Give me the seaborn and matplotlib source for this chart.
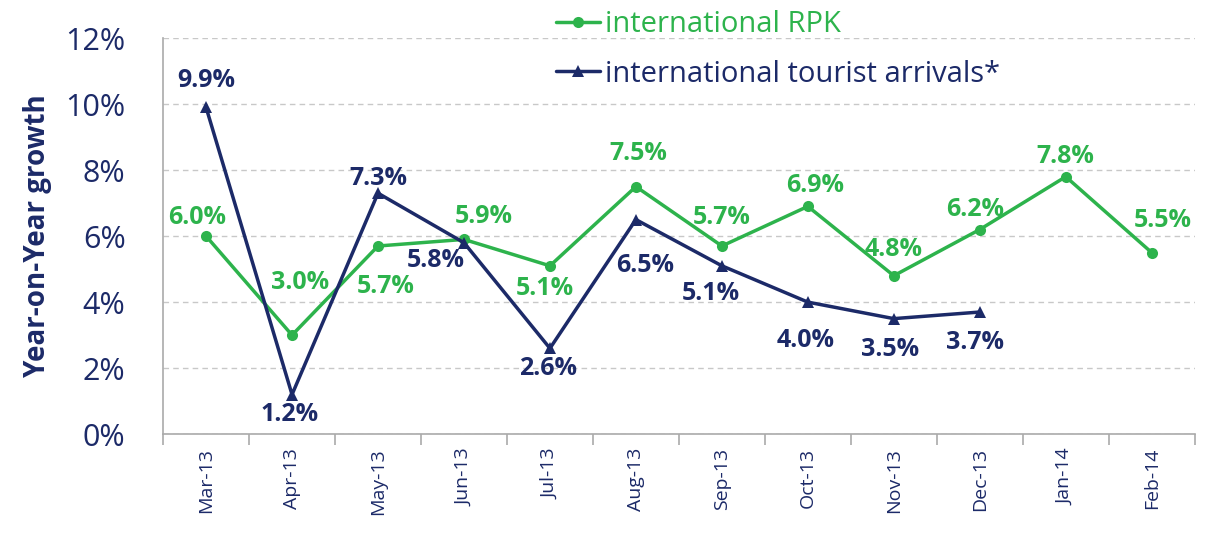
import matplotlib
matplotlib.use("Agg")
import matplotlib.pyplot as plt
import matplotlib.ticker as mticker
import pandas as pd
import seaborn as sns

months = ["Mar-13", "Apr-13", "May-13", "Jun-13", "Jul-13", "Aug-13",
          "Sep-13", "Oct-13", "Nov-13", "Dec-13", "Jan-14", "Feb-14"]
rpk = [6.0, 3.0, 5.7, 5.9, 5.1, 7.5, 5.7, 6.9, 4.8, 6.2, 7.8, 5.5]
arrivals = [9.9, 1.2, 7.3, 5.8, 2.6, 6.5, 5.1, 4.0, 3.5, 3.7]
yticks = [0, 2, 4, 6, 8, 10, 12]

GREEN = "#2db34c"
NAVY = "#1c2a68"

# label offsets in pixels (dx, dy) for each point
rpk_off = [(-9, 19), (8, 53), (8, -40), (20, 23), (-5, -23), (2, 33),
           (0, 29), (7, 21), (0, 26), (-5, 20), (0, 20), (11, 32)]
arr_off = [(0, 27), (-2, -20), (0, 15), (-28, -18), (-2, -20), (9, -46),
           (-11, -28), (-2, -38), (-4, -31), (-5, -30)]

sns.set_theme(style="white")
plt.rcParams["font.family"] = ["Open Sans", "DejaVu Sans"]

df_rpk = pd.DataFrame({"month": months, "value": rpk})
df_arr = pd.DataFrame({"month": months[:len(arrivals)], "value": arrivals})

fig = plt.figure(figsize=(12.08, 5.36), dpi=100)
ax = fig.add_axes([0.135, 0.19, 0.854, 0.739])

sns.lineplot(ax=ax, data=df_rpk, x="month", y="value", color=GREEN, lw=2.5,
             marker="o", markersize=8, markeredgewidth=0, label="international RPK", sort=False)
sns.lineplot(ax=ax, data=df_arr, x="month", y="value", color=NAVY, lw=2.5,
             marker="^", markersize=8, markeredgewidth=0, label="international tourist arrivals*", sort=False)

for m, v, (dx, dy) in zip(months, rpk, rpk_off):
    ax.annotate(f"{v:.1f}%", xy=(m, v), xytext=(dx, dy), textcoords="offset pixels",
                ha="center", va="center", fontsize=18, fontweight="bold", color=GREEN)
for m, v, (dx, dy) in zip(months, arrivals, arr_off):
    ax.annotate(f"{v:.1f}%", xy=(m, v), xytext=(dx, dy), textcoords="offset pixels",
                ha="center", va="center", fontsize=18, fontweight="bold", color=NAVY)

ax.set_xlim(-0.5, len(months) - 0.5)
ax.set_ylim(0, 12)
ax.set_yticks(yticks)
ax.yaxis.set_major_formatter(mticker.FuncFormatter(lambda v, p: f"{v:.0f}%"))
ax.tick_params(axis="y", labelsize=22, labelcolor=NAVY, length=8, color="#aaaaaa", width=1, pad=19)
ax.tick_params(axis="x", which="major", labelsize=14, labelcolor=NAVY, rotation=90, length=0, pad=10)
ax.set_xticks([i + 0.5 for i in range(-1, len(months))], minor=True)
ax.tick_params(axis="x", which="minor", length=8, color="#aaaaaa", width=1.2, direction="out")
ax.tick_params(axis="x", which="both", bottom=True)

ax.grid(axis="y", linestyle=(0, (4, 3)), color="#c8c8c8", lw=1)
ax.set_axisbelow(True)
for s in ["top", "right"]:
    ax.spines[s].set_visible(False)
for s in ["left", "bottom"]:
    ax.spines[s].set_color("#aaaaaa")
    ax.spines[s].set_linewidth(1.2)

ax.set_xlabel("")
ax.set_ylabel("Year-on-Year growth", fontsize=20, fontweight="bold", color=NAVY, labelpad=10)

leg = ax.legend(loc="upper left", bbox_to_anchor=(0.37, 1.1), frameon=False, fontsize=21,
                handlelength=1.5, handletextpad=0.15, labelspacing=0.7, borderaxespad=0)
for t, c in zip(leg.get_texts(), [GREEN, NAVY]):
    t.set_color(c)

fig.savefig("out.png", dpi=100)
